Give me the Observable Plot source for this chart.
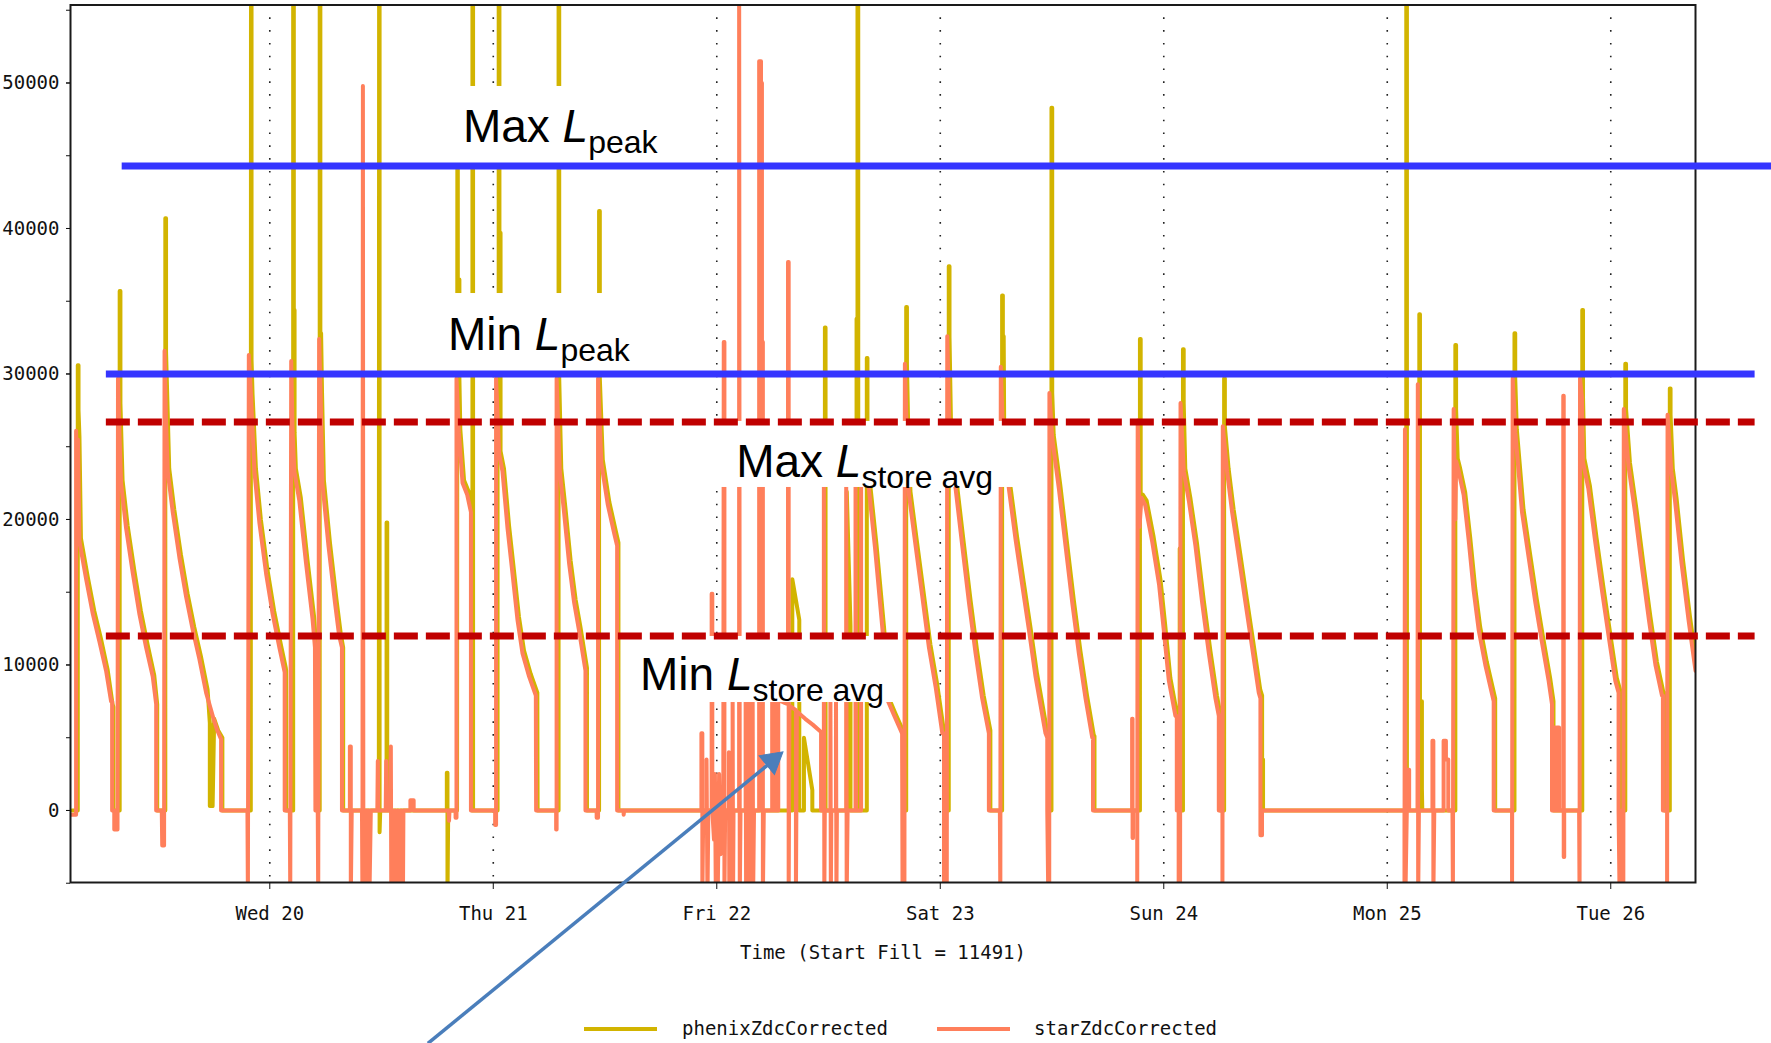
<!DOCTYPE html>
<html><head><meta charset="utf-8">
<script src="https://cdn.jsdelivr.net/npm/d3@7"></script>
<script src="https://cdn.jsdelivr.net/npm/@observablehq/plot@0.6"></script>
<style>
html,body{margin:0;padding:0;background:#fff;overflow:hidden}
#legend{position:relative;width:1771px;height:40px;font-family:"DejaVu Sans Mono",monospace;font-size:19px;color:#111}
#legend .sw{position:absolute;top:24px;width:73px;height:4px}
#legend .lb{position:absolute;top:16px;line-height:19px;white-space:pre}
</style>
</head><body>
<div id="chart"></div>
<div id="legend"></div>
<script>
// ---- series names / colours ----
const seriesNames = ["phenixZdcCorrected", "starZdcCorrected"];
const seriesColors = ["#d2b400", "#ff7f5b"];

// time in hours since Tue 19 Jan 2010 00:00
const dayTicksH = [24, 48, 72, 96, 120, 144, 168];
const xDomainH = [2.6, 177.1];
const yDomain = [-4950, 55360];
const yLabelTicks = [0, 10000, 20000, 30000, 40000, 50000];
const yMinorTicks = [-5000, 0, 5000, 10000, 15000, 20000, 25000, 30000, 35000, 40000, 45000, 50000, 55000];

// ---- starZdcCorrected [hour, value] ----
const starPoints = [
[2.6,-300],[3.2,-300],[3.2,26100],[3.3,23000],[3.4,25500],[3.56,18500],[4.28,15900],[5.0,13500],[5.71,11600],[6.42,9600],[6.96,7500],[7.07,7500],[7.07,0],[7.3,0],[7.3,-1300],[7.65,-1300],[7.7,29700],
[7.85,26000],[8.03,22500],[8.57,19400],[9.29,16300],[10.0,13500],[10.72,11200],[11.43,9200],[11.8,7300],[11.8,0],[12.4,0],[12.45,-2400],[12.65,-2400],[12.7,31600],
[12.85,27000],[13.04,23300],[13.58,20500],[14.29,17400],[15.01,14700],[15.73,12400],[16.44,10400],[17.16,8100],[17.87,6500],[18.3,5600],[18.77,4900],[18.77,0],[21.6,0],[21.65,-6000],[21.75,31300],
[21.99,28400],[22.35,23300],[22.88,19800],[23.6,16300],[24.31,13500],[25.03,11200],[25.6,9500],[25.6,0],[26.15,0],[26.2,-6000],[26.3,30900],
[26.45,26000],[26.64,23300],[27.17,21300],[27.89,17000],[28.6,13100],[28.85,11200],[28.9,0],[29.15,0],[29.2,-6000],[29.3,32400],
[29.45,28700],[29.65,22500],[30.3,18200],[31.0,14300],[31.45,12000],[31.75,11200],[31.75,0],
[32.6,0],[32.6,4400],[32.7,4400],[32.7,-6000],[32.8,0],[33.9,0],[33.95,-6000],[34.0,49800],[34.05,-6000],[34.2,0],[34.3,-6000],[34.4,0],[34.5,-6000],[34.6,0],[34.7,-6000],[34.85,0],[35.55,0],[35.6,3400],[35.65,0],[36.45,0],[36.5,3400],[36.55,0],[36.95,0],[37.0,4400],[37.05,-6000],[37.2,0],[37.3,-6000],[37.45,0],[37.6,-6000],[37.75,0],[37.9,-6000],[38.1,0],[38.3,-6000],[38.35,0],[39.1,0],[39.1,700],[39.45,700],[39.45,0],[43.2,0],[43.25,-700],[43.3,0],[43.95,0],[43.95,-500],[44.05,-500],[44.05,29700],
[44.3,26000],[44.7,22500],[45.2,21700],[45.6,20500],[45.6,0],[48.2,0],[48.2,-1000],[48.3,-1000],[48.3,29700],
[48.63,24500],[48.99,23300],[49.53,19400],[50.06,16300],[50.6,13100],[51.14,10800],[51.85,9200],[52.57,7900],[52.6,0],[54.75,0],[54.75,-1300],[54.8,-1300],[54.8,29700],
[55.14,23300],[55.6,20500],[56.14,17000],[56.68,14300],[57.2,12400],[57.9,9600],[57.9,0],[59.1,0],[59.1,-500],[59.25,-500],[59.25,29700],
[59.6,23900],[60.3,21000],[61.0,19000],[61.3,18200],[61.3,0],[62.0,0],[62.0,-300],[62.05,0],
[70.35,0],[70.35,5300],[70.45,5300],[70.45,-6000],[70.55,0],[70.9,0],[70.9,3500],[71.0,-6000],[71.1,0],[71.45,0],[71.45,14900],[71.52,14900],[71.52,0],[71.7,-2000],[71.8,2500],[71.9,-6000],[72.0,1500],[72.1,-6000],[72.25,2500],[72.4,-3000],[72.55,1000],[72.7,0],[72.75,32200],[72.82,32200],[72.82,-6000],[72.9,0],[73.3,0],[73.3,4000],[73.35,-6000],[73.4,0],[73.7,0],[73.7,9000],[73.75,-6000],[73.8,0],[74.4,0],[74.4,60000],[74.47,-6000],[74.55,0],[75.1,0],[75.1,9000],[75.15,-6000],[75.2,0],[75.5,0],[75.5,9000],[75.55,-6000],[75.6,0],[75.85,0],[75.85,9000],[75.9,-6000],[76.0,0],[76.55,0],[76.55,51500],[76.75,51500],[76.75,50000],[76.85,50000],[76.85,32200],[76.95,32200],[76.95,-6000],[77.05,0],[77.95,0],[77.95,9000],[78.0,0],[78.3,0],[78.3,9000],[78.35,0],[78.6,0],[78.6,7600],[79.3,7400],[79.65,7300],[79.65,37700],[79.72,37700],[79.72,-6000],[79.8,7200],[80.5,6900],[80.5,-6000],[80.6,6800],[81.5,6300],[82.3,5900],[83.2,5400],[83.2,0],[83.5,0],[83.5,24000],[83.55,-6000],[83.6,0],[84.2,0],[84.2,9000],[84.25,-6000],[84.3,0],[84.8,0],[84.8,9000],[84.85,-6000],[84.9,0],[85.9,0],[85.9,23000],[85.95,-6000],[86.05,0],[86.9,0],[86.9,24000],[86.95,0],[87.5,0],[87.5,24000],[88.3,22300],[89.0,18000],[89.8,12400],[90.4,7500],[91.0,6600],[91.9,5300],[91.95,-6000],[92.15,-6000],[92.2,30700],
[92.4,26000],[92.64,21700],[93.35,18200],[94.07,14700],[94.78,11200],[95.5,8500],[96.22,5300],[96.4,5300],[96.4,-6000],[96.5,0],[96.6,-6000],[96.7,-6000],[96.75,32600],
[97.0,26000],[97.65,22100],[98.36,18200],[99.08,14300],[99.79,10800],[100.5,7700],[101.22,5300],[101.22,0],[102.4,0],[102.45,-6000],[102.5,30500],
[102.7,26500],[103.37,22100],[104.09,18600],[104.8,15500],[105.52,12400],[106.23,9200],[107.3,5300],[107.49,5000],[107.49,0],[107.6,-6000],[107.7,-6000],[107.72,28700],
[108.02,25600],[108.74,22100],[109.45,18200],[110.17,14300],[110.88,10800],[111.6,7700],[112.32,5000],[112.4,5000],[112.4,0],[116.6,0],[116.6,6300],[116.65,6300],[116.65,-1900],[116.7,-1900],[116.7,0],[117.15,0],[117.15,-6000],[117.2,26800],
[117.4,19500],[117.6,21500],[118.0,21000],[118.75,18500],[119.5,15500],[120.0,12400],[120.55,8900],[121.25,6500],[121.4,6500],[121.4,0],[121.6,0],[121.6,-6000],[121.75,-6000],[121.8,28000],
[122.15,23300],[122.69,21300],[123.4,18200],[124.12,14300],[124.84,10800],[125.55,7700],[125.91,6500],[125.91,0],[126.3,0],[126.3,-6000],[126.34,26400],
[126.8,23300],[127.34,20500],[128.06,17400],[128.77,14300],[129.49,11200],[130.2,8100],[130.38,7700],[130.38,-1700],[130.55,-1700],[130.55,0],[145.85,0],[145.85,-6000],[145.9,26200],[145.95,-6000],[146.1,0],[146.15,0],[146.15,2800],[146.35,2800],[146.35,0],[147.25,0],[147.28,29300],[147.32,-6000],[147.4,0],
[148.85,0],[148.85,4800],[148.95,4800],[148.95,-6000],[149.05,0],[150.05,0],[150.05,4800],[150.3,4800],[150.3,3500],[150.55,3500],[150.55,0],[151.0,0],[151.05,-6000],[151.13,27600],
[151.3,20000],[151.4,24000],[151.67,23300],[152.2,21700],[152.74,18600],[153.28,15100],[153.82,12400],[154.53,10000],[155.43,7500],[155.43,0],[157.4,0],[157.4,-6000],[157.47,29700],
[157.75,26000],[158.47,20500],[159.18,17400],[159.9,14300],[160.6,11600],[161.33,8900],[161.69,7300],[161.69,0],[161.8,0],[161.8,5700],[162.0,5700],[162.0,0],[162.2,0],[162.2,5700],[162.45,5700],[162.45,0],[162.9,0],[162.9,28500],[162.95,28500],[162.95,-3200],[163.0,-3200],[163.0,0],[164.6,0],[164.65,-6000],[164.7,29700],
[164.9,28400],[165.0,24000],[165.6,22100],[166.3,18600],[167.06,15100],[167.77,12000],[168.49,8900],[168.84,8100],[168.84,0],[168.95,-6000],[169.05,0],[169.15,-6000],[169.3,0],[169.35,-6000],[169.4,27600],
[169.9,23700],[170.6,20500],[171.35,16700],[172.1,13100],[172.8,10000],[173.5,7900],[173.6,7900],[173.6,0],[174.05,0],[174.05,-6000],[174.1,27200],
[174.5,23300],[174.9,21300],[175.6,17000],[176.35,13100],[177.1,9600]
];

// ---- phenixZdcCorrected [hour, value] ----
const phenixPoints = [
[2.6,0],[3.22,0],[3.22,30600],[3.3,30600],[3.3,27500],[3.4,25700],[3.56,18700],[4.28,16100],[5.0,13700],[5.71,11800],[6.42,9700],[6.96,7300],[7.05,7100],[7.05,0],
[7.72,0],[7.72,35700],[7.8,35700],[7.8,28000],[8.03,22700],[8.57,19600],[9.29,16500],[10.0,13700],[10.72,11400],[11.43,9300],[11.75,7300],[11.75,0],
[12.62,0],[12.62,40700],[12.7,40700],[12.7,31500],[13.04,23500],[13.58,20700],[14.29,17600],[15.01,14900],[15.73,12600],[16.44,10600],[17.16,8300],[17.4,6000],[17.4,300],[17.5,5900],[17.55,300],[17.65,5800],[17.7,300],[17.87,6300],[18.3,5500],[18.75,5000],[18.75,0],
[21.8,0],[21.82,60000],[21.88,60000],[21.88,31000],[21.99,28600],[22.35,23500],[22.88,20000],[23.6,16500],[24.31,13700],[25.03,11400],[25.56,9800],[25.6,9600],[25.6,0],
[26.35,0],[26.35,60000],[26.42,60000],[26.42,34400],[26.5,34400],[26.5,26000],[26.64,23500],[27.17,21500],[27.89,17200],[28.6,13300],[28.85,11000],[28.88,0],
[29.2,0],[29.2,60000],[29.27,60000],[29.27,32800],[29.35,32800],[29.45,28700],[29.65,22700],[30.3,18400],[31.0,14500],[31.45,12200],[31.72,11200],[31.72,0],
[35.55,0],[35.58,60000],[35.63,60000],[35.63,-1500],[35.7,0],[36.38,0],[36.38,19800],[36.45,19800],[36.45,0],[42.85,0],[42.85,2600],[42.92,2600],[42.92,-6000],[43.0,0],
[43.95,0],[43.98,44500],[44.03,44500],[44.03,36500],[44.2,36500],[44.2,29700],[44.3,26200],[44.7,22700],[45.2,21900],[45.55,20700],[45.55,0],[45.6,0],[45.6,60000],[45.67,60000],[45.67,0],
[48.3,0],[48.3,29700],[48.42,29700],[48.42,60000],[48.5,60000],[48.5,39700],[48.62,39700],[48.62,24700],[48.99,23500],[49.53,19600],[50.06,16500],[50.6,13300],[51.14,11000],[51.85,9400],[52.57,8100],[52.6,0],
[54.85,0],[54.85,60000],[54.92,60000],[54.92,29700],[55.14,23500],[55.6,20700],[56.14,17200],[56.68,14500],[57.2,12600],[57.9,9800],[57.9,0],
[59.2,0],[59.2,41200],[59.28,41200],[59.28,29700],[59.6,24100],[60.3,21200],[61.0,19200],[61.28,18400],[61.28,0],
[79.95,0],[79.95,15900],[80.7,13100],[80.7,0],[81.2,0],[81.2,5000],[81.7,3000],[82.1,1400],[82.1,0],[83.45,0],[83.45,33200],[83.52,33200],[83.52,0],[85.8,0],[85.8,21900],[86.2,12700],[86.2,0],[86.85,0],[86.85,33800],[86.95,33800],[86.95,60000],[87.03,60000],[87.03,0],[87.95,0],[87.95,31100],[88.02,31100],[88.02,22500],[88.3,22500],[89.0,18200],[89.8,12600],[90.4,7600],[91.0,6700],[91.9,5400],[91.9,0],
[92.18,0],[92.18,34600],[92.26,34600],[92.26,30700],[92.4,26200],[92.64,21900],[93.35,18400],[94.07,14900],[94.78,11400],[95.5,8700],[96.22,5500],[96.4,5400],[96.4,0],
[96.75,0],[96.75,37400],[96.83,37400],[96.83,32600],[97.0,26200],[97.65,22300],[98.36,18400],[99.08,14500],[99.79,11000],[100.5,7900],[101.22,5500],[101.22,0],
[102.48,0],[102.48,35400],[102.56,35400],[102.56,32600],[102.65,32600],[102.7,26700],[103.37,22300],[104.09,18800],[104.8,15700],[105.52,12600],[106.23,9400],[107.3,5500],[107.49,5200],[107.49,0],
[107.78,0],[107.78,48300],[107.86,48300],[107.86,28700],[108.02,25800],[108.74,22300],[109.45,18400],[110.17,14500],[110.88,11000],[111.6,7900],[112.32,5200],[112.4,5100],[112.4,0],
[117.28,0],[117.28,32400],[117.36,32400],[117.36,21000],[117.6,21700],[118.0,21300],[118.75,18800],[119.5,15800],[120.0,12700],[120.55,9100],[121.25,6700],[121.38,6600],[121.38,0],[121.55,0],[121.55,18000],[121.62,18000],[121.62,0],
[121.9,0],[121.9,31700],[121.98,31700],[121.98,28000],[122.15,23500],[122.69,21500],[123.4,18400],[124.12,14500],[124.84,11000],[125.55,7900],[125.9,6700],[125.9,0],
[126.32,0],[126.32,29700],[126.4,29700],[126.4,26400],[126.8,23500],[127.34,20700],[128.06,17600],[128.77,14500],[129.49,11400],[130.2,8300],[130.4,7900],[130.4,3500],[130.5,3500],[130.5,0],
[145.88,0],[145.88,60000],[145.95,60000],[145.95,0],[147.28,0],[147.28,34100],[147.35,34100],[147.35,0],[147.5,0],[147.5,7500],[147.56,7500],[147.56,1500],[147.6,0],
[151.15,0],[151.15,32000],[151.23,32000],[151.23,27600],[151.4,24200],[151.67,23500],[152.2,21900],[152.74,18800],[153.28,15300],[153.82,12600],[154.53,10200],[155.43,7700],[155.43,0],
[157.5,0],[157.5,32800],[157.58,32800],[157.58,29700],[157.75,26200],[158.47,20700],[159.18,17600],[159.9,14500],[160.6,11800],[161.33,9100],[161.69,7500],[161.69,0],
[164.78,0],[164.78,34400],[164.86,34400],[164.86,28400],[165.0,24200],[165.6,22300],[166.3,18800],[167.06,15300],[167.77,12200],[168.49,9100],[168.84,8300],[168.84,0],
[169.4,0],[169.4,30700],[169.48,30700],[169.48,27600],[169.9,23900],[170.6,20700],[171.35,16900],[172.1,13300],[172.8,10200],[173.5,8100],[173.6,8100],[173.6,0],
[174.18,0],[174.18,29000],[174.26,29000],[174.26,27200],[174.5,23500],[174.9,21500],[175.6,17200],[176.35,13300],[177.1,9800]
];

// ---- reference levels ----
const peakLevels = [44300, 30000];        // Max / Min L_peak (blue)
const peakFromH = [8.15, 6.45];
const peakToH = [186, 183.5];
const storeLevels = [26700, 12000];       // Max / Min L_store avg (red dashed)
const storeFromH = [6.45, 6.45];
const storeToH = [183.5, 183.5];

// ---- annotations ----
const annoLabels = ["Max L|peak", "Min L|peak", "Max L|store avg", "Min L|store avg"];
const annoH = [44.74, 43.13, 74.08, 63.76];
const annoV = [45910, 31615, 22890, 8250];
const boxH1 = [42.59, 40.87, 71.82, 62.79];
const boxH2 = [68.49, 65.37, 104.38, 91.91];
const boxV1 = [44300, 30000, 22200, 7420];
const boxV2 = [49760, 35530, 26740, 11960];
const arrowH = [40.98, 77.7];      // tail, end of shaft
const arrowV = [-16010, 3250];
const arrowTipH = [77.95];         // arrow head (filled triangle)
const arrowTipV = [3420];

// ---- build ----
const T0 = Date.UTC(2010, 0, 19);
const toDate = h => new Date(T0 + h * 3600e3);
const star = starPoints.map(([h, v]) => ({t: toDate(h), v}));
const phenix = phenixPoints.map(([h, v]) => ({t: toDate(h), v}));
const dayTicks = dayTicksH.map(toDate);
const peaks = peakLevels.map((v, i) => ({v, x1: toDate(peakFromH[i]), x2: toDate(peakToH[i])}));
const stores = storeLevels.map((v, i) => ({v, x1: toDate(storeFromH[i]), x2: toDate(storeToH[i])}));
const annos = annoLabels.map((label, i) => ({label, t: toDate(annoH[i]), v: annoV[i]}));
const boxes = boxH1.map((h, i) => ({x1: toDate(h), x2: toDate(boxH2[i]), y1: boxV1[i], y2: boxV2[i]}));
const arrow = [{x1: toDate(arrowH[0]), y1: arrowV[0], x2: toDate(arrowH[1]), y2: arrowV[1]}];
const arrowTip = arrowTipH.map((h, i) => ({t: toDate(h), v: arrowTipV[i]}));
const fmtDay = d3.utcFormat("%a %d");
const arrowColor = "#4a7ebb";

const svg = Plot.plot({
  width: 1771,
  height: 1003,
  marginLeft: 70,
  marginRight: 76,
  marginTop: 4.5,
  marginBottom: 121,
  style: {overflow: "visible", background: "white", fontFamily: "'DejaVu Sans Mono', monospace", fontSize: "19px", color: "#111"},
  x: {type: "utc", domain: xDomainH.map(toDate)},
  y: {domain: yDomain},
  marks: [
    Plot.ruleX(dayTicks, {stroke: "#222", strokeWidth: 1.6, strokeDasharray: "1.6,11.2"}),
    Plot.line(phenix, {x: "t", y: "v", stroke: seriesColors[0], strokeWidth: 4, dx: 1.5, clip: true}),
    Plot.line(star, {x: "t", y: "v", stroke: seriesColors[1], strokeWidth: 4, clip: true}),
    Plot.frame({stroke: "#1a1a1a", strokeWidth: 2}),
    Plot.axisY({ticks: yMinorTicks, tickSize: 4, tickFormat: () => "", label: null, stroke: "#111"}),
    Plot.axisY({ticks: yLabelTicks, tickSize: 4, tickPadding: 7, tickFormat: d => `${d}`, label: null, stroke: "#111", fill: "#111"}),
    Plot.axisX({ticks: dayTicks, tickSize: 7, tickPadding: 16.5, tickFormat: fmtDay, label: null, stroke: "#111", fill: "#111"}),
    Plot.text(["Time (Start Fill = 11491)"], {frameAnchor: "bottom", dy: 76.5, lineAnchor: "bottom", fill: "#111"}),
    Plot.rect(boxes, {x1: "x1", x2: "x2", y1: "y1", y2: "y2", fill: "white"}),
    Plot.ruleY(stores, {y: "v", x1: "x1", x2: "x2", stroke: "#c00000", strokeWidth: 7, strokeDasharray: "24,8"}),
    Plot.ruleY(peaks, {y: "v", x1: "x1", x2: "x2", stroke: "#3535ff", strokeWidth: 7}),
    Plot.text(annos, {x: "t", y: "v", text: "label", textAnchor: "start", lineAnchor: "bottom", fontSize: 46, fontFamily: "'Liberation Sans', Arial, sans-serif", fill: "black"}),
    Plot.link(arrow, {x1: "x1", y1: "y1", x2: "x2", y2: "y2", stroke: arrowColor, strokeWidth: 3.5}),
    Plot.dot(arrowTip, {x: "t", y: "v", symbol: "triangle", r: 9, rotate: 50.6, fill: arrowColor, stroke: arrowColor, strokeWidth: 1})
  ]
});

// rich text: italic L with subscript
d3.select(svg).selectAll("text").filter(function () { return this.textContent.includes("|"); }).each(function () {
  const [main, sub] = this.textContent.split("|");
  const t = d3.select(this);
  t.text(null);
  t.append("tspan").text(main.slice(0, -1));
  t.append("tspan").attr("font-style", "italic").text(main.slice(-1));
  t.append("tspan").attr("font-size", 32).attr("dy", 11).text(sub);
});

document.getElementById("chart").appendChild(svg);

// legend (line swatches) below the chart
const legend = document.getElementById("legend");
const swatchLeft = [584, 937];
const labelLeft = [682, 1034];
seriesNames.forEach((name, i) => {
  const sw = document.createElement("div");
  sw.className = "sw";
  sw.style.left = swatchLeft[i] + "px";
  sw.style.background = seriesColors[i];
  legend.appendChild(sw);
  const lb = document.createElement("span");
  lb.className = "lb";
  lb.style.left = labelLeft[i] + "px";
  lb.textContent = name;
  legend.appendChild(lb);
});
</script>
</body></html>
